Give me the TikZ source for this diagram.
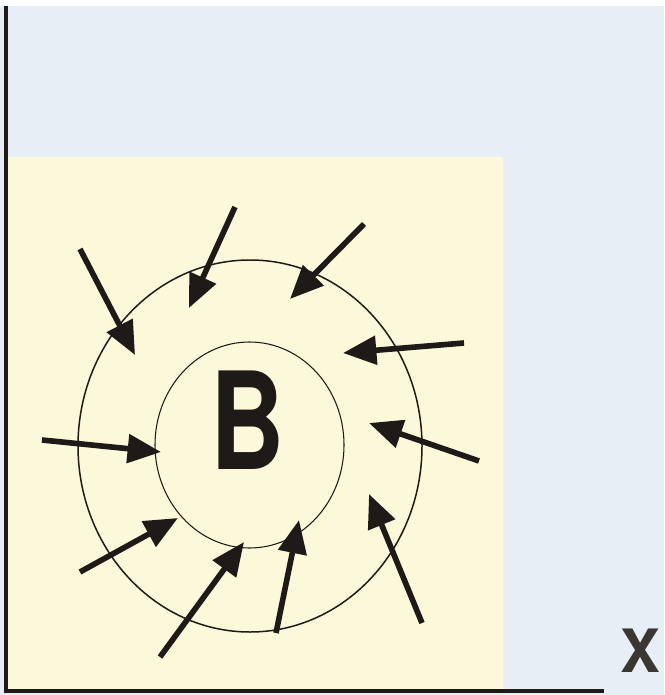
\documentclass[tikz,border=0pt]{standalone}
\usepackage{fontspec}
\setmainfont{TeX Gyre Heros}
\newfontfamily\narrowheros[FakeStretch=0.76]{TeX Gyre Heros}
\usetikzlibrary{arrows.meta}

\definecolor{skyback}{HTML}{E8EEF6}
\definecolor{sandfill}{HTML}{FCF8DA}
\definecolor{inkgray}{HTML}{3B3631}
\definecolor{inkdark}{HTML}{1E1A17}

\tikzset{
	push/.style={line width=3.2pt, color=inkdark, -{Triangle[length=19pt, width=16pt]}},
	shell/.style={line width=0.85pt, color=inkdark},
	axisline/.style={line width=2pt, color=inkdark}
}

\begin{document}
\begin{tikzpicture}[x=0.02cm, y=-0.02cm]
	\useasboundingbox (0,0) rectangle (664,695);
	\fill [skyback] (0,6) rectangle (664,695);
	\fill [sandfill] (6,157) rectangle (503,691);
	\draw [axisline] (6,6) -- (6,691) -- (604,691);
	\node [inkgray, inner sep=0pt, font=\fontsize{34}{34}\selectfont\bfseries] (xlab) at (640,651) {X};
	% the two shells round B
	\draw [shell] (250,446) ellipse [x radius=172, y radius=186];
	\draw [shell, line width=0.6pt] (249.5,445) ellipse [x radius=94.5, y radius=103];
	\node [inkdark, inner sep=0pt, font=\narrowheros\fontsize{77}{77}\selectfont\bfseries] (b) at (248,420) {B};
	% arrows pushing inwards
	\foreach \tx/\ty/\hx/\hy [count=\i] in {80/249/135/355, 235/207/189/308, 364/224/290/299,
		464/343/343/353, 479/461/369/423, 422/623/369/494, 42/440/161/452,
		80/572/178/518, 160/657/244/542, 276/633/299/520} {
		\coordinate (t\i) at (\tx,\ty);
		\coordinate (h\i) at (\hx,\hy);
		\draw [push] (t\i) -- (h\i);
	}
\end{tikzpicture}
\end{document}
